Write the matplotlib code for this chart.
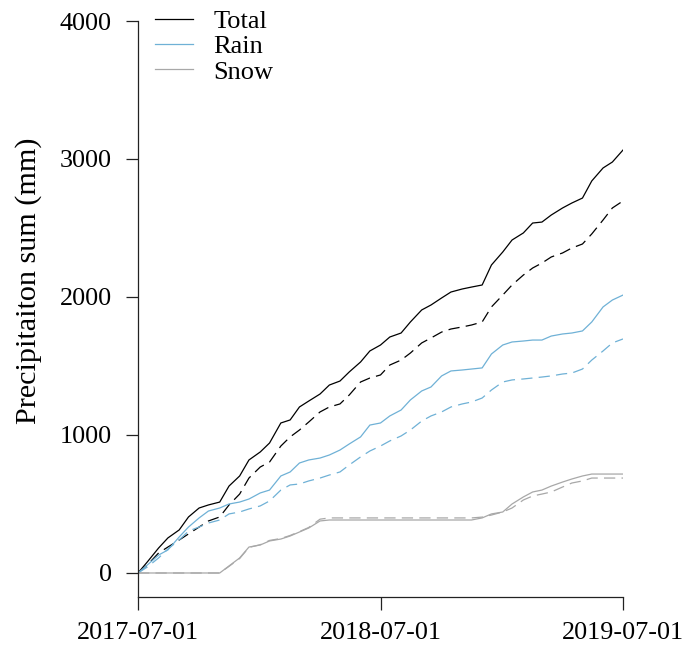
import numpy as np
import pandas as pd
import matplotlib
matplotlib.use("Agg")
import matplotlib.pyplot as plt
import matplotlib.dates as mdates

plt.rcParams['font.family'] = ['Liberation Serif', 'DejaVu Serif']

# semi-monthly sample dates, 2017-07-01 .. 2019-07-01
dates = pd.date_range('2017-07-01', '2019-07-01', freq='SMS')

# cumulative precipitation (mm)
total_obs = [0, 80, 181, 254, 312, 406, 471, 493, 514, 630, 703, 819, 877, 942, 1087, 1109,
             1203, 1246, 1297, 1362, 1391, 1457, 1529, 1609, 1652, 1710, 1739, 1819, 1906, 1942,
             1993, 2036, 2058, 2072, 2087, 2232, 2326, 2413, 2464, 2536, 2543, 2594, 2645, 2681,
             2717, 2841, 2935, 2978, 3065]
total_mod = [0, 58, 145, 188, 239, 283, 333, 377, 406, 493, 572, 688, 768, 804, 920, 986,
             1036, 1094, 1167, 1203, 1225, 1290, 1384, 1413, 1435, 1507, 1543, 1594, 1667, 1703,
             1746, 1768, 1783, 1797, 1819, 1928, 2014, 2087, 2159, 2210, 2246, 2290, 2319, 2355,
             2384, 2457, 2558, 2645, 2696]
rain_obs = [0, 58, 130, 167, 261, 333, 399, 449, 471, 500, 514, 536, 580, 601, 703, 732,
            797, 819, 833, 855, 891, 935, 986, 1072, 1087, 1138, 1181, 1254, 1319, 1348,
            1428, 1464, 1471, 1478, 1486, 1587, 1652, 1674, 1681, 1688, 1688, 1717, 1732, 1739,
            1754, 1819, 1928, 1978, 2014]
rain_mod = [0, 43, 109, 174, 239, 304, 333, 362, 384, 428, 442, 464, 486, 522, 601, 638,
            645, 667, 688, 710, 732, 783, 841, 884, 920, 957, 993, 1036, 1101, 1138,
            1167, 1203, 1225, 1239, 1268, 1326, 1384, 1399, 1406, 1413, 1420, 1428, 1442, 1449,
            1478, 1543, 1609, 1667, 1696]
snow_obs = [0, 0, 0, 0, 0, 0, 0, 0, 0, 51, 109, 188, 203, 232, 246, 268,
            297, 326, 377, 384, 384, 384, 384, 384, 384, 384, 384, 384, 384, 384,
            384, 384, 384, 384, 399, 428, 442, 500, 551, 587, 601, 630, 659, 681,
            703, 717, 717, 717, 717]
snow_mod = [0, 0, 0, 0, 0, 0, 0, 0, 0, 48, 105, 185, 205, 236, 250, 272,
            300, 330, 390, 399, 399, 399, 399, 399, 399, 399, 399, 399, 399, 399,
            399, 399, 399, 399, 405, 420, 442, 471, 529, 558, 572, 587, 623, 652,
            667, 688, 688, 688, 688]

labels = ['Total', 'Rain', 'Snow']
colors = ['black', '#6fb1d6', '#a8a8a8']
y_ticks = [0, 1000, 2000, 3000, 4000]
x_ticks = ['2017-07-01', '2018-07-01', '2019-07-01']

fig = plt.figure(figsize=(6.88, 6.49), dpi=100)
ax = fig.add_axes([138 / 688, 1 - 597 / 649, 485 / 688, 576 / 649])

obs = [total_obs, rain_obs, snow_obs]
mod = [total_mod, rain_mod, snow_mod]
for lab, col, a, b in zip(labels, colors, obs, mod):
    ax.plot(dates, a, color=col, lw=0.9, label=lab)
    ax.plot(dates, b, color=col, lw=0.9, dashes=(9, 5))

ax.set_xlim(pd.Timestamp(x_ticks[0]), pd.Timestamp(x_ticks[-1]))
ax.set_ylim(-174, 4000)
ax.set_xticks([pd.Timestamp(t) for t in x_ticks])
ax.xaxis.set_major_formatter(mdates.DateFormatter('%Y-%m-%d'))
ax.set_yticks(y_ticks)

for s in ['top', 'right']:
    ax.spines[s].set_visible(False)
for s in ['left', 'bottom']:
    ax.spines[s].set_linewidth(0.9)
    ax.spines[s].set_color('#222222')
ax.tick_params(axis='both', length=9, width=0.9, color='#222222', labelsize=18.8)
ax.tick_params(axis='y', pad=10)
ax.tick_params(axis='x', pad=9)

ax.set_ylabel('Precipitaiton sum (mm)', fontsize=21.7, labelpad=13)
ax.yaxis.set_label_coords(-0.197, 0.549)

ax.legend(loc='upper left', bbox_to_anchor=(17 / 485, 1.020), frameon=False, fontsize=19,
          handlelength=1.45, handletextpad=0.76, labelspacing=0.07, borderaxespad=0,
          borderpad=0)

fig.savefig('out.png', dpi=100)
